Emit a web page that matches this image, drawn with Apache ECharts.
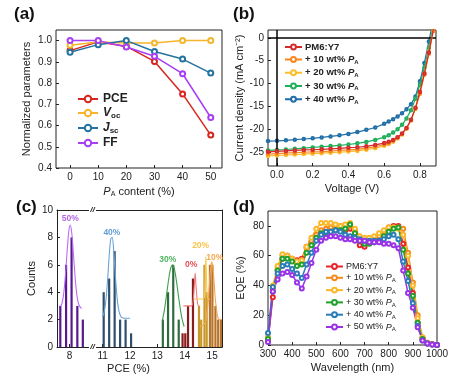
<!DOCTYPE html>
<html><head><meta charset="utf-8">
<script src="https://cdn.jsdelivr.net/npm/echarts@6/dist/echarts.min.js"></script>
<style>html,body{margin:0;padding:0;background:#fff}#c{width:453px;height:386px}</style>
</head><body><div id="c"></div>
<script>
// ---------- Panel (a) ----------
const aX = [0, 10, 20, 30, 40, 50];
const aPCE = [0.953, 0.994, 0.973, 0.902, 0.749, 0.555];
const aVoc = [0.978, 0.994, 0.989, 0.989, 1.0, 1.0];
const aJsc = [0.945, 0.981, 1.0, 0.949, 0.913, 0.847];
const aFF  = [1.0, 1.0, 0.97, 0.926, 0.844, 0.638];
const aXTicks = [0, 10, 20, 30, 40, 50];
const aYTicks = [0.4, 0.5, 0.6, 0.7, 0.8, 0.9, 1.0];

// ---------- Panel (b) ----------
const bV = [-0.05, 0, 0.05, 0.1, 0.15, 0.2, 0.25, 0.3, 0.35, 0.4, 0.45, 0.5, 0.55, 0.6, 0.625, 0.65, 0.675, 0.7, 0.725, 0.75, 0.775, 0.8, 0.825, 0.85, 0.875, 0.9];
const bJ0  = [-24.9, -24.8, -24.7, -24.6, -24.5, -24.45, -24.35, -24.25, -24.15, -24.0, -23.9, -23.7, -23.4, -23.0, -22.7, -22.3, -21.7, -20.9, -19.7, -17.9, -15.3, -11.8, -7.8, -3.2, 1.8, 7];
const bJ10 = [-25.4, -25.3, -25.2, -25.1, -25.0, -24.9, -24.85, -24.75, -24.6, -24.5, -24.35, -24.1, -23.8, -23.3, -23.0, -22.5, -21.8, -21.0, -19.8, -18.0, -15.5, -12.2, -8.0, -3.5, 1.5, 6.5];
const bJ20 = [-25.8, -25.7, -25.6, -25.5, -25.4, -25.3, -25.2, -25.1, -25.0, -24.85, -24.7, -24.45, -24.1, -23.6, -23.2, -22.7, -22.0, -21.1, -19.8, -18.0, -15.4, -12.0, -7.8, -3.0, 2.0, 7];
const bJ30 = [-24.6, -24.5, -24.4, -24.25, -24.1, -23.95, -23.8, -23.65, -23.5, -23.3, -23.05, -22.75, -22.3, -21.7, -21.3, -20.7, -20.0, -19.0, -17.6, -15.8, -13.3, -10.2, -6.5, -2.2, 2.8, 8];
const bJ40 = [-22.55, -22.5, -22.4, -22.25, -22.1, -21.95, -21.75, -21.55, -21.3, -21.0, -20.6, -20.1, -19.6, -18.8, -18.3, -17.8, -17.2, -16.5, -15.6, -14.5, -12.8, -9.5, -5.5, -0.8, 4, 9];
const bXTicks = [0, 0.2, 0.4, 0.6, 0.8];
const bYTicks = [0, -5, -10, -15, -20, -25];

// ---------- Panel (c) ----------
const c50Bars = [[7.66, 3], [7.87, 6], [8.07, 8], [8.28, 3], [8.48, 2]];
const c50Fit = [[7.67, 2.95], [7.72, 3.19], [7.77, 3.7], [7.82, 4.6], [7.87, 5.87], [7.92, 7.3], [7.97, 8.45], [8.02, 8.9], [8.07, 8.45], [8.12, 7.3], [8.17, 5.87], [8.22, 4.6], [8.27, 3.7], [8.32, 3.19], [8.37, 2.95], [8.43, 2.8]];
const c40Bars = [[11.04, 4], [11.24, 5], [11.44, 7], [11.64, 2], [11.84, 2], [12.04, 1]];
const c40Fit = [[11.0, 2.2], [11.05, 2.5], [11.1, 3.05], [11.15, 4.05], [11.2, 5.4], [11.25, 6.9], [11.3, 7.9], [11.35, 8.0], [11.4, 7.2], [11.45, 5.7], [11.5, 4.3], [11.55, 3.2], [11.6, 2.6], [11.65, 2.3], [11.7, 2.15], [11.8, 2.1], [12.0, 2.1]];
const c30Bars = [[13.2, 2], [13.39, 4], [13.58, 6], [13.78, 2]];
const c30Fit = [[13.18, 1.9], [13.25, 2.62], [13.3, 3.29], [13.35, 4.03], [13.4, 4.77], [13.45, 5.41], [13.5, 5.84], [13.55, 6.0], [13.6, 5.84], [13.65, 5.41], [13.7, 4.77], [13.75, 4.03], [13.8, 3.29], [13.85, 2.62], [13.9, 2.08], [13.95, 1.68], [13.98, 1.5]];
const c0Bars = [[13.92, 1], [14.02, 1], [14.12, 3], [14.3, 5]];
const c0Fit = [[13.95, 3.0], [14.25, 3.0], [14.3, 3.3], [14.35, 4.5], [14.38, 5.4], [14.41, 4.5], [14.46, 3.3], [14.5, 3.0], [14.53, 3.0]];
const c20Bars = [[14.52, 3], [14.6, 2], [14.72, 6], [14.8, 4]];
const c20Fit = [[14.33, 3.5], [14.65, 3.5], [14.72, 3.7], [14.75, 5.5], [14.77, 6.6], [14.79, 5.5], [14.82, 3.7], [14.88, 3.5], [14.92, 3.5]];
const c10Bars = [[14.92, 6], [15.01, 6], [15.12, 3], [15.22, 2], [15.32, 2]];
const c10Fit = [[14.55, 1.5], [14.65, 1.55], [14.75, 1.8], [14.8, 2.4], [14.85, 3.2], [14.9, 4.6], [14.95, 5.8], [14.98, 6.2], [15.02, 5.9], [15.07, 4.8], [15.12, 3.4], [15.17, 2.6], [15.22, 2.1], [15.28, 2.0], [15.34, 2.0]];
const cLabels = [['50%', 8.02, 9.4], ['40%', 11.34, 8.35], ['30%', 13.38, 6.36], ['0%', 14.23, 6.0], ['20%', 14.58, 7.38], ['10%', 15.1, 6.55]];
const cXTicksL = [8];
const cXTicksR = [11, 12, 13, 14, 15];

// ---------- Panel (d) ----------
const dWl = [300, 320, 340, 360, 380, 400, 420, 440, 460, 480, 500, 520, 540, 560, 580, 600, 620, 640, 660, 680, 700, 720, 740, 760, 780, 800, 820, 840, 860, 880, 900, 920, 940, 960, 980, 1000];
const d0  = [3, 32, 50, 58, 60, 58, 57, 58, 66, 69, 73, 76, 76, 76, 77, 77, 77, 78, 75, 67, 66, 69, 70, 71, 75, 79, 80, 80, 68, 52, 35, 15, 4, 1, 0.5, 0];
const d10 = [5, 38, 52, 60, 60, 57, 55, 56, 65, 70, 74, 77, 78, 79, 80, 80, 80, 80, 77, 71, 71, 71, 72, 73, 76, 78, 79, 79, 78, 62, 42, 20, 5, 1.5, 0.5, 0];
const d20 = [5, 40, 53, 61, 60, 58, 56, 57, 66, 72, 78, 82, 82, 82, 81, 80, 81, 82, 78, 73, 72, 72, 73, 75, 77, 79, 79, 78, 74, 60, 40, 18, 5, 1.5, 0.5, 0];
const d30 = [4, 36, 50, 58, 58, 56, 53, 54, 62, 67, 72, 75, 75, 76, 77, 77, 78, 81, 75, 70, 68, 68, 69, 70, 73, 76, 78, 79, 64, 48, 33, 15, 4, 1, 0.3, 0];
const d40 = [8, 39, 48, 53, 54, 51, 48, 45, 54, 62, 70, 74, 76, 76, 77, 76, 74, 73, 72, 71, 70, 70, 70, 70, 71, 73, 74, 71, 56, 43, 28, 13, 3, 1, 0.3, 0];
const d50 = [2, 36, 44, 48, 49, 47, 42, 38, 46, 55, 64, 70, 72, 73, 73, 72, 71, 71, 70, 70, 70, 69, 69, 69, 68, 68, 67, 65, 50, 35, 25, 12, 3, 1, 0.3, 0];
const dXTicks = [300, 400, 500, 600, 700, 800, 900, 1000];
const dYTicks = [0, 20, 40, 60, 80];

const legendNames = ['PM6:Y7', '+ 10 wt% ', '+ 20 wt% ', '+ 30 wt% ', '+ 40 wt% ', '+ 50 wt% '];

// ---------- Styling ----------
const FONT = 'Liberation Sans, Arial, Helvetica, sans-serif';
const colA = {PCE: '#d7261e', Voc: '#f7b52c', Jsc: '#23739f', FF: '#a83ef5'};
const colB = ['#d42a2a', '#f7861e', '#fbbd2c', '#1fae5a', '#1f6ea8'];
const colD = ['#e8262a', '#f58a1f', '#fbb829', '#21a02b', '#2a7db8', '#9a33e8'];

const zipXY = (xs, ys) => xs.map((x, i) => [x, ys[i]]);
const lbl = {color: '#222', fontSize: 10, fontFamily: FONT};
const boxGrid = {show: true, borderColor: '#222', borderWidth: 1, backgroundColor: 'transparent'};

const richTxt = (fs, fw) => ({
  n: {fontSize: fs, fontWeight: fw, fontFamily: FONT, lineHeight: fs + 2, color: '#222'},
  i: {fontSize: fs, fontWeight: fw, fontStyle: 'italic', fontFamily: FONT, lineHeight: fs + 2, color: '#222'},
  s: {fontSize: Math.round(fs * 0.68), fontWeight: fw, fontFamily: FONT, lineHeight: Math.round(fs * 0.68), verticalAlign: 'bottom', padding: [3, 0, 0, 0], color: '#222'}
});

function valAxis(gi, min, max, ticks, fmt, extra) {
  return Object.assign({
    type: 'value', gridIndex: gi, min: min, max: max,
    splitLine: {show: false},
    axisLine: {show: false, onZero: false},
    axisTick: {show: true, inside: true, length: 3, lineStyle: {color: '#222'}, customValues: ticks},
    axisLabel: Object.assign({customValues: ticks, margin: 4, formatter: fmt}, lbl)
  }, extra || {});
}

const aSeries = [['PCE', aPCE], ['Voc', aVoc], ['Jsc', aJsc], ['FF', aFF]].map(([n, d]) => ({
  name: 'a' + n, type: 'line', xAxisIndex: 0, yAxisIndex: 0,
  data: zipXY(aX, d), symbol: 'emptyCircle', symbolSize: 5,
  lineStyle: {width: 1.5, color: colA[n]}, itemStyle: {color: colA[n], borderWidth: 1.5}
}));

const bSeries = [bJ0, bJ10, bJ20, bJ30, bJ40].map((d, k) => ({
  name: 'b' + k, type: 'line', xAxisIndex: 1, yAxisIndex: 1,
  data: zipXY(bV, d), symbol: 'emptyCircle', symbolSize: 2.5, z: 3 + (4 - k),
  lineStyle: {width: 1.2, color: colB[k]}, itemStyle: {color: colB[k], borderWidth: 1}
}));
bSeries[0].markLine = {
  silent: true, symbol: 'none', label: {show: false},
  lineStyle: {color: '#000', width: 1.5, type: 'solid'},
  data: [{yAxis: 0}, {xAxis: 0}]
};

const dSeries = [d0, d10, d20, d30, d40, d50].map((d, k) => ({
  name: 'd' + k, type: 'line', xAxisIndex: 4, yAxisIndex: 4,
  data: zipXY(dWl, d), symbol: 'emptyCircle', symbolSize: 4,
  lineStyle: {width: 1.5, color: colD[k]}, itemStyle: {color: colD[k], borderWidth: 1}
}));

function cBar(data, color, xi, yi) {
  return {type: 'bar', xAxisIndex: xi, yAxisIndex: yi, data: data, barWidth: 2.2, barGap: '-100%',
    itemStyle: {color: color}, silent: true};
}
function cFit(data, color, xi, yi) {
  return {type: 'line', xAxisIndex: xi, yAxisIndex: yi, data: data, smooth: 0.3, symbol: 'none',
    lineStyle: {width: 1.1, color: color}, silent: true, z: 3};
}
const cLabelColors = {'50%': '#a040e0', '40%': '#3a86c8', '30%': '#22a03a', '0%': '#e0202a', '20%': '#f4b41a', '10%': '#f5901e'};
const cSeries = [
  cBar(c50Bars, '#5a1790', 2, 2), cFit(c50Fit, '#b86cf5', 2, 2),
  cBar(c40Bars, '#2e4e6c', 3, 3), cFit(c40Fit, '#6aa3d6', 3, 3),
  cBar(c30Bars, '#2f6b3f', 3, 3), cFit(c30Fit, '#3aa04a', 3, 3),
  cBar(c0Bars, '#8a1c1c', 3, 3), cFit(c0Fit, '#f07a7a', 3, 3),
  cBar(c20Bars, '#c8982a', 3, 3), cFit(c20Fit, '#f8cc50', 3, 3),
  cBar(c10Bars, '#b8742a', 3, 3), cFit(c10Fit, '#f7a550', 3, 3)
];
cLabels.forEach(([t, x, y]) => {
  const left = x < 10;
  cSeries.push({type: 'scatter', xAxisIndex: left ? 2 : 3, yAxisIndex: left ? 2 : 3,
    data: [[x, y]], symbolSize: 0, silent: true,
    label: {show: true, position: 'inside', formatter: t, color: cLabelColors[t], fontSize: 8.5, fontWeight: 'bold', fontFamily: FONT}});
});

const legFmt = n => {
  const k = +n.slice(1);
  if (k === 0) return '{n|PM6:Y7}';
  return '{n|' + legendNames[k] + '}{i|P}{s|A}';
};

const option = {
  animation: false,
  backgroundColor: '#fff',
  textStyle: {fontFamily: FONT},
  grid: [
    Object.assign({left: 56, top: 30, width: 166, height: 138}, boxGrid),
    Object.assign({left: 268, top: 30, width: 168, height: 136}, boxGrid),
    {left: 57, top: 210, width: 36, height: 137},
    {left: 93, top: 210, width: 129, height: 137},
    Object.assign({left: 268, top: 211, width: 169, height: 134}, boxGrid)
  ],
  xAxis: [
    valAxis(0, -5, 54, aXTicks, v => String(v), {
      name: '{i|P}{s|A}{n| content (%)}', nameLocation: 'middle', nameGap: 17,
      nameTextStyle: {rich: richTxt(11, 'normal')}
    }),
    valAxis(1, -0.05, 0.89, bXTicks, v => v.toFixed(1), {
      name: 'Voltage (V)', nameLocation: 'middle', nameGap: 17,
      nameTextStyle: {fontSize: 11, color: '#222', fontFamily: FONT}
    }),
    valAxis(2, 7.54, 8.85, cXTicksL, v => String(v), {
      axisLine: {show: true, onZero: false, lineStyle: {color: '#222', width: 1}}
    }),
    valAxis(3, 10.65, 15.36, cXTicksR, v => String(v), {
      axisLine: {show: true, onZero: false, lineStyle: {color: '#222', width: 1}},
      name: 'PCE (%)', nameLocation: 'middle', nameGap: 16,
      nameTextStyle: {fontSize: 11, color: '#222', fontFamily: FONT, padding: [0, 58, 0, 0]}
    }),
    valAxis(4, 300, 1000, dXTicks, v => String(v), {
      name: 'Wavelength (nm)', nameLocation: 'middle', nameGap: 17,
      nameTextStyle: {fontSize: 11, color: '#222', fontFamily: FONT}
    }),
    {type: 'value', gridIndex: 2, position: 'top', min: 7.54, max: 8.85, axisLine: {show: true, onZero: false, lineStyle: {color: '#222', width: 1}},
      axisTick: {show: false}, axisLabel: {show: false}, splitLine: {show: false}},
    {type: 'value', gridIndex: 3, position: 'top', min: 10.65, max: 15.36, axisLine: {show: true, onZero: false, lineStyle: {color: '#222', width: 1}},
      axisTick: {show: false}, axisLabel: {show: false}, splitLine: {show: false}}
  ],
  yAxis: [
    valAxis(0, 0.4, 1.05, aYTicks, v => v.toFixed(1), {
      name: 'Normalized parameters', nameLocation: 'middle', nameGap: 24,
      nameTextStyle: {fontSize: 11, color: '#222', fontFamily: FONT}
    }),
    valAxis(1, -28, 1.7, bYTicks, v => String(v), {
      name: 'Current density (mA cm⁻²)', nameLocation: 'middle', nameGap: 22,
      nameTextStyle: {fontSize: 11, color: '#222', fontFamily: FONT}
    }),
    valAxis(2, 0, 10, [0, 2, 4, 6, 8, 10], v => String(v), {
      axisLine: {show: true, onZero: false, lineStyle: {color: '#222', width: 1}},
      name: 'Counts', nameLocation: 'middle', nameGap: 20,
      nameTextStyle: {fontSize: 11, color: '#222', fontFamily: FONT}
    }),
    {type: 'value', gridIndex: 3, position: 'right', min: 0, max: 10, axisLine: {show: true, onZero: false, lineStyle: {color: '#222', width: 1}},
      axisTick: {show: false}, axisLabel: {show: false}, splitLine: {show: false}},
    valAxis(4, 0, 90, dYTicks, v => String(v), {
      name: 'EQE (%)', nameLocation: 'middle', nameGap: 22,
      nameTextStyle: {fontSize: 11, color: '#222', fontFamily: FONT}
    })
  ],
  legend: [
    {left: 72, top: 88, orient: 'vertical', itemGap: 2, itemWidth: 20, itemHeight: 8,
      data: ['aPCE', 'aVoc', 'aJsc', 'aFF'],
      formatter: n => ({aPCE: '{n|PCE}', aVoc: '{i|V}{s|oc}', aJsc: '{i|J}{s|sc}', aFF: '{n|FF}'})[n],
      textStyle: {rich: richTxt(12, 'bold')}},
    {left: 279, top: 37, orient: 'vertical', itemGap: 2.5, itemWidth: 17, itemHeight: 6, itemStyle: {borderWidth: 1},
      data: ['b0', 'b1', 'b2', 'b3', 'b4'], formatter: legFmt,
      textStyle: {padding: [0, 0, 0, -2], rich: richTxt(9.5, 'bold')}},
    {left: 320, top: 257, orient: 'vertical', itemGap: 2.3, itemWidth: 17, itemHeight: 6,
      data: ['d0', 'd1', 'd2', 'd3', 'd4', 'd5'], formatter: legFmt,
      textStyle: {padding: [0, 0, 0, -2], rich: richTxt(9, 'normal')}}
  ],
  graphic: [
    {type: 'text', left: 14, top: 6, style: {text: '(a)', font: 'bold 17px ' + FONT, fill: '#111'}},
    {type: 'text', left: 233, top: 6, style: {text: '(b)', font: 'bold 17px ' + FONT, fill: '#111'}},
    {type: 'text', left: 16, top: 199, style: {text: '(c)', font: 'bold 17px ' + FONT, fill: '#111'}},
    {type: 'text', left: 233, top: 199, style: {text: '(d)', font: 'bold 17px ' + FONT, fill: '#111'}},
    {type: 'rect', shape: {x: 89, y: 207, width: 7, height: 6}, style: {fill: '#fff'}, z: 100},
    {type: 'rect', shape: {x: 89, y: 344, width: 7, height: 6}, style: {fill: '#fff'}, z: 100},
    {type: 'text', x: 92.5, y: 210, z: 101, style: {text: '//', font: 'italic bold 8px ' + FONT, fill: '#222', textAlign: 'center', textVerticalAlign: 'middle'}},
    {type: 'text', x: 92.5, y: 347, z: 101, style: {text: '//', font: 'italic bold 8px ' + FONT, fill: '#222', textAlign: 'center', textVerticalAlign: 'middle'}}
  ],
  series: [].concat(aSeries, bSeries, cSeries, dSeries)
};

const chart = echarts.init(document.getElementById('c'), null, {renderer: 'canvas'});
chart.setOption(option);
</script></body></html>
